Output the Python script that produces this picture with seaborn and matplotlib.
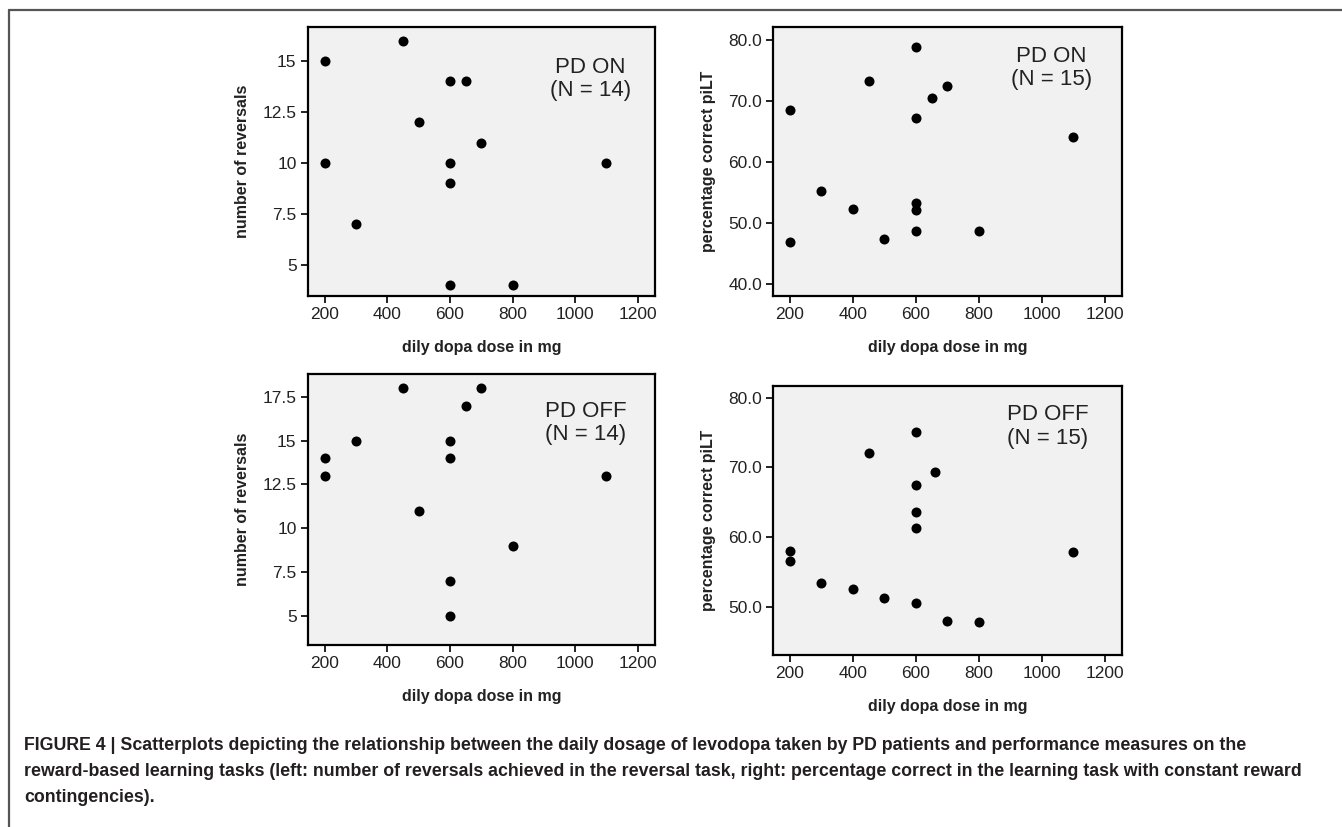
import pandas as pd
import seaborn as sns
import matplotlib.pyplot as plt
from matplotlib.lines import Line2D

# Values
on_rev_dose = [450, 200, 600, 650, 500, 700, 200, 600, 1100, 600, 300, 600, 800]
on_rev_val = [16, 15, 14, 14, 12, 11, 10, 10, 10, 9, 7, 4, 4]

on_pilt_dose = [600, 450, 700, 650, 200, 600, 1100, 300, 400, 600, 600, 600, 800, 500, 200]
on_pilt_val = [78.9, 73.4, 72.6, 70.5, 68.6, 67.3, 64.1, 55.3, 52.4, 53.4, 52.2, 48.8, 48.8, 47.4, 46.9]

off_rev_dose = [450, 700, 650, 300, 600, 200, 600, 200, 1100, 500, 800, 600, 600]
off_rev_val = [18, 18, 17, 15, 15, 14, 14, 13, 13, 11, 9, 7, 5]

off_pilt_dose = [600, 450, 660, 600, 600, 600, 200, 200, 1100, 300, 400, 500, 600, 700, 800]
off_pilt_val = [75.0, 72.0, 69.4, 67.4, 63.6, 61.3, 58.0, 56.6, 57.8, 53.4, 52.6, 51.3, 50.5, 48.0, 47.8]

rev_ticks = [5, 7.5, 10, 12.5, 15, 17.5]
pilt_ticks = [40.0, 50.0, 60.0, 70.0, 80.0]
dose_ticks = [200, 400, 600, 800, 1000, 1200]

caption = ["FIGURE 4 | Scatterplots depicting the relationship between the daily dosage of levodopa taken by PD patients and performance measures on the",
           "reward-based learning tasks (left: number of reversals achieved in the reversal task, right: percentage correct in the learning task with constant reward",
           "contingencies)."]

sns.set_theme(style="ticks")
plt.rcParams['font.family'] = ['Liberation Sans', 'DejaVu Sans']

fig = plt.figure(figsize=(13.42, 8.27), dpi=100)

panels = [
    # rect, dose, values, ylim, yticks, ylabel, fmt, label, text pos
    ([0.2293, 0.6421, 0.2588, 0.3256], on_rev_dose, on_rev_val, (3.48, 16.68), [5, 7.5, 10, 12.5, 15],
     'number of reversals', '{:g}', 'PD ON\n(N = 14)', (0.813, 0.806)),
    ([0.5760, 0.6421, 0.2601, 0.3253], on_pilt_dose, on_pilt_val, (38.1, 82.2), pilt_ticks,
     'percentage correct piLT', '{:.1f}', 'PD ON\n(N = 15)', (0.797, 0.848)),
    ([0.2293, 0.2201, 0.2588, 0.3277], off_rev_dose, off_rev_val, (3.33, 18.8), rev_ticks,
     'number of reversals', '{:g}', 'PD OFF\n(N = 14)', (0.80, 0.819)),
    ([0.5760, 0.2080, 0.2601, 0.3256], off_pilt_dose, off_pilt_val, (43.1, 81.7), [50.0, 60.0, 70.0, 80.0],
     'percentage correct piLT', '{:.1f}', 'PD OFF\n(N = 15)', (0.788, 0.848)),
]

for rect, dose, vals, ylim, yt, ylab, fmt, label, tpos in panels:
    ax = fig.add_axes(rect)
    df = pd.DataFrame({'dose': dose, 'value': vals})
    sns.scatterplot(data=df, x='dose', y='value', ax=ax, color='black', s=52,
                    edgecolor='black', linewidth=0, zorder=3)
    ax.set_facecolor('#f0f1f0')
    ax.set_xlim(146, 1255)
    ax.set_ylim(*ylim)
    ax.set_xticks(dose_ticks)
    ax.set_xticklabels([str(t) for t in dose_ticks])
    ax.set_yticks(yt)
    ax.set_yticklabels([fmt.format(t) for t in yt])
    for sp in ax.spines.values():
        sp.set_visible(True)
        sp.set_linewidth(1.6)
        sp.set_color('black')
    ax.tick_params(axis='both', direction='out', length=5, width=1.4, labelsize=12.5,
                   colors='#222222', pad=3)
    ax.set_xlabel('dily dopa dose in mg', fontsize=11.5, fontweight='bold', labelpad=13, color='#222222')
    ax.set_ylabel(ylab, fontsize=11.5, fontweight='bold', labelpad=9, color='#222222')
    ax.text(tpos[0], tpos[1], label, transform=ax.transAxes, ha='center', va='center',
            fontsize=16, color='#222222', linespacing=1.15)

# frame lines around the figure area
fig.add_artist(Line2D([9 / 1342, 1], [1 - 10 / 827, 1 - 10 / 827], transform=fig.transFigure,
                      color='#555555', lw=1.6))
fig.add_artist(Line2D([9 / 1342, 9 / 1342], [0, 1 - 10 / 827], transform=fig.transFigure,
                      color='#555555', lw=1.6))

for i, line in enumerate(caption):
    fig.text(24 / 1342, 1 - (746 + 26 * i) / 827, line, ha='left', va='center',
             fontsize=12.8, fontweight='bold', color='#231f20')

plt.savefig('out.png', dpi=100)
